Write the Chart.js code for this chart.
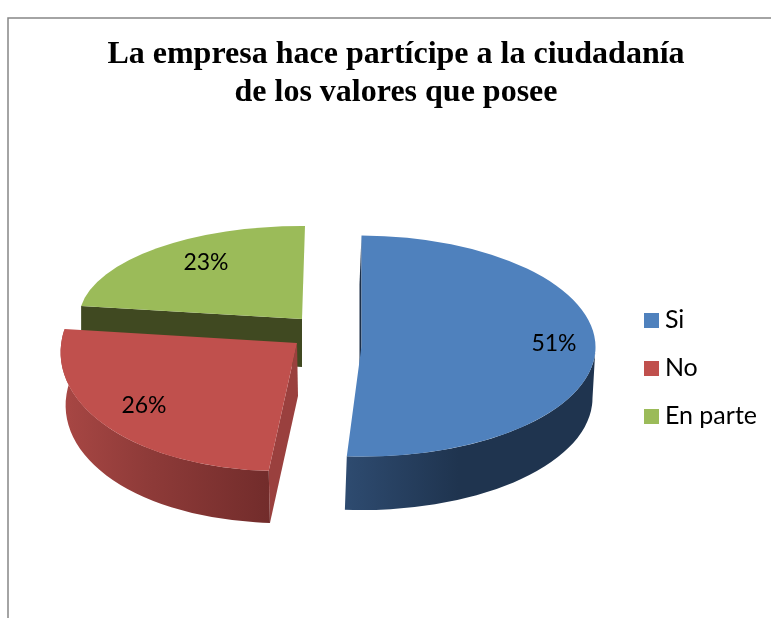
<!DOCTYPE html>
<html><head><meta charset="utf-8">
<style>html,body{margin:0;padding:0;background:#fff}canvas{display:block}</style>
<script src="https://cdn.jsdelivr.net/npm/chart.js@4/dist/chart.umd.min.js"></script>
</head><body><canvas id="c" width="771" height="618"></canvas>
<script>
const categories = ['Si', 'No', 'En parte'];
const values = [51, 26, 23];
const titleLines = ['La empresa hace partícipe a la ciudadanía', 'de los valores que posee'];

const colors = ['#4f81bd', '#c0504d', '#9bbb59'];
const R = 100;
// 3D look: an affine map of each slice's top face and bottom rim
const topFace = [
  {a:234,b:1,c:0,d:110.5,e:361.5,f:346},
  {a:236,b:-2,c:-13.5,d:128,e:297,f:343},
  {a:223,b:1.4,c:-3,d:93,e:302,f:319}
];
const botFace = [
  {a:233,b:1,c:0,d:113,e:359.5,f:397},
  {a:232,b:-2,c:-13.5,d:127,e:298,f:396},
  {a:223,b:1.4,c:-3,d:93,e:302,f:367}
];
const labelPos = [[554,344],[144,406],[206,263]];
const innerWallColor = ['#1c2f49', '#9a403e', '#404921'];
const innerWallEdge = ['start', 'start', 'start'];
const wallStops = [
  {x0:345,x1:597,stops:[[0,'#2e4b70'],[0.45,'#1f344f'],[1,'#1f344f']]},
  {x0:62,x1:270,stops:[[0,'#a84744'],[0.4,'#8f3b39'],[1,'#722c2b']]},
  null
];

function pt(m, ang){const u=Math.cos(ang),v=Math.sin(ang);return [m.e+m.a*u+m.c*v,m.f+m.b*u+m.d*v];}
function addArc(ctx,m,a1,a2,ccw){ctx.save();ctx.transform(m.a,m.b,m.c,m.d,m.e,m.f);ctx.arc(0,0,1,a1,a2,ccw);ctx.restore();}

const pie3d = {
  id:'pie3d',
  beforeDraw(chart){
    const ctx=chart.ctx;ctx.save();
    ctx.strokeStyle='#868686';ctx.lineWidth=1.5;
    ctx.beginPath();ctx.moveTo(771,18);ctx.lineTo(8,18);ctx.lineTo(8,618);ctx.stroke();
    ctx.restore();
  },
  beforeDatasetDraw(chart,args){
    const ctx=chart.ctx;
    const arcs=args.meta.data;
    // walls, back to front
    for(let i=arcs.length-1;i>=0;i--){
      const arc=arcs[i],t=topFace[i],b=botFace[i];
      const ang=innerWallEdge[i]==='start'?arc.startAngle:arc.endAngle;
      const p1=pt(t,ang),p2=pt(b,ang);
      ctx.save();
      ctx.fillStyle=innerWallColor[i];
      ctx.beginPath();ctx.moveTo(t.e,t.f);ctx.lineTo(p1[0],p1[1]);ctx.lineTo(p2[0],p2[1]);ctx.lineTo(b.e,b.f);ctx.closePath();ctx.fill();
      const w=wallStops[i];
      if(w){
        const a1=Math.max(arc.startAngle,0),a2=Math.min(arc.endAngle,Math.PI*1.04);
        const g=ctx.createLinearGradient(w.x0,0,w.x1,0);
        w.stops.forEach(s=>g.addColorStop(s[0],s[1]));
        ctx.fillStyle=g;
        ctx.beginPath();
        addArc(ctx,t,a1,a2,false);
        addArc(ctx,b,a2,a1,true);
        ctx.closePath();ctx.fill();
      }
      ctx.restore();
    }
    // top faces: library arc elements seen through each slice's map
    arcs.forEach((arc,i)=>{
      const t=topFace[i];
      ctx.save();
      ctx.transform(t.a/R,t.b/R,t.c/R,t.d/R,t.e,t.f);
      ctx.translate(-arc.x,-arc.y);
      arc.draw(ctx,chart.chartArea);
      ctx.restore();
    });
    // percentage labels
    const total=values.reduce((s,v)=>s+v,0);
    ctx.save();
    ctx.fillStyle='#000';ctx.font='23px Lato';ctx.textAlign='center';ctx.textBaseline='middle';
    values.forEach((v,i)=>ctx.fillText(Math.round(v/total*100)+'%',labelPos[i][0],labelPos[i][1]));
    ctx.restore();
    return false;
  }
};

function swatch(col){const s=document.createElement('canvas');s.width=15;s.height=15;const x=s.getContext('2d');x.fillStyle=col;x.fillRect(0,0,15,15);return s;}
const swatches=colors.map(swatch);

new Chart(document.getElementById('c'),{
  type:'pie',
  data:{labels:categories,datasets:[{data:values,backgroundColor:colors,borderWidth:0,radius:R}]},
  options:{
    responsive:false,animation:false,
    layout:{padding:{left:25,right:4,top:0,bottom:0}},
    plugins:{
      tooltip:{enabled:false},
      title:{display:true,text:titleLines,color:'#000',font:{family:'"Liberation Serif"',size:32,weight:'bold',lineHeight:1.19},padding:{top:36,bottom:6}},
      legend:{position:'right',fullSize:false,labels:{
        color:'#000',font:{family:'Lato',size:25},padding:23,usePointStyle:true,pointStyleWidth:2,boxHeight:15,
        generateLabels(chart){
          return Chart.overrides.pie.plugins.legend.labels.generateLabels(chart).map((l,i)=>Object.assign(l,{pointStyle:swatches[i]}));
        }
      }}
    }
  },
  plugins:[pie3d]
});
</script></body></html>
